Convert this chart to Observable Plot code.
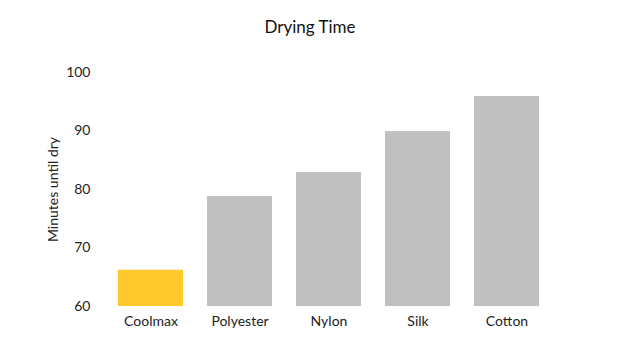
<!DOCTYPE html>
<html><head><meta charset="utf-8">
<script src="https://cdn.jsdelivr.net/npm/d3@7"></script>
<script src="https://cdn.jsdelivr.net/npm/@observablehq/plot@0.6"></script>
<style>
body{margin:0;background:#fff;font-family:Lato,sans-serif;}
#title{height:50px;box-sizing:border-box;padding-top:17px;text-align:center;font-size:17px;line-height:20px;color:#111;width:620px;}
</style></head>
<body>
<div id="title">Drying Time</div>
<div id="chart"></div>
<script>
const fabrics = ["Coolmax","Polyester","Nylon","Silk","Cotton"];
const minutes = [66.2,78.8,82.9,89.9,95.9];
const highlight = "Coolmax";
const yTicks = [60,70,80,90,100];
const data = fabrics.map((f,i)=>({fabric:f, minutes:minutes[i]}));
const chart = Plot.plot({
  width:620, height:303,
  marginTop:22, marginBottom:47, marginLeft:93, marginRight:56,
  style:{fontFamily:"Lato, sans-serif", fontSize:"14px", color:"#222", background:"#fff"},
  x:{domain:fabrics, padding:0.27, label:null, tickSize:0, tickPadding:10},
  y:{domain:[60,100], ticks:yTicks, label:"Minutes until dry", labelAnchor:"center", labelArrow:"none", labelOffset:45, tickSize:0, tickPadding:3},
  marks:[
    Plot.barY(data,{x:"fabric", y1:60, y2:"minutes", fill:d=>d.fabric===highlight?"#FFC92E":"#C0C0C0"})
  ]
});
document.getElementById("chart").appendChild(chart);
</script>
</body></html>
